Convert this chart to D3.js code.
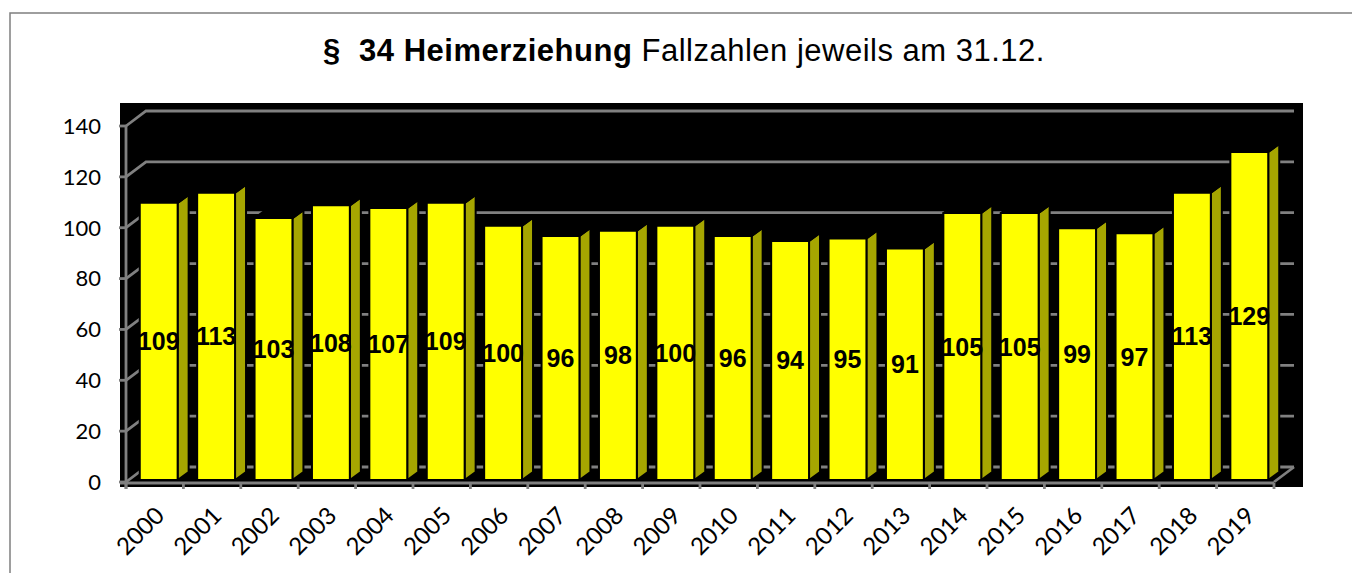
<!DOCTYPE html>
<html lang="de">
<head>
<meta charset="utf-8">
<title>§ 34 Heimerziehung</title>
<script src="https://d3js.org/d3.v7.min.js"></script>
<style>
  body { margin: 0; background: #fff; }
  svg { display: block; }
  .title { font-family: "Liberation Sans", Arial, sans-serif; font-size: 31px; letter-spacing: 0.5px; white-space: pre; }
  .tick { font-family: Lato, "Open Sans", sans-serif; font-size: 22px; fill: #000; }
  .xlab { font-family: Lato, "Open Sans", sans-serif; font-size: 24px; fill: #000; }
  .val { font-family: "Liberation Sans", Arial, sans-serif; font-size: 25px; font-weight: bold; fill: #000; }
</style>
</head>
<body>
<svg id="chart" width="1352" height="573"></svg>
<script>
// data
var years = ["2000","2001","2002","2003","2004","2005","2006","2007","2008","2009",
             "2010","2011","2012","2013","2014","2015","2016","2017","2018","2019"]
var cases = [109,113,103,108,107,109,100,96,98,100,96,94,95,91,105,105,99,97,113,129]
var yTicks = [0,20,40,60,80,100,120,140]

// colours
var front = "#ffff00", top = "#cccc00", side = "#a6a600"
var grid = "#808080"

// 3d offsets
var wall = {dx: 20, dy: -15}   // depth of the floor / back wall
var depth = {dx: 11, dy: -8}    // depth of a bar
var shift = {dx: 4, dy: -2}     // bar front face behind the front plane

var svg = d3.select("#chart")

// outer frame
svg.append("rect")
  .attr("x", 10).attr("y", 13)
  .attr("width", 1400).attr("height", 600)
  .attr("fill", "none").attr("stroke", "#7f7f7f").attr("stroke-width", 1.5)

// title
var title = svg.append("text").attr("class", "title")
  .attr("x", 684).attr("y", 61).attr("text-anchor", "middle")
title.append("tspan").attr("font-weight", "bold").text("§  34 Heimerziehung")
title.append("tspan").text(" Fallzahlen jeweils am 31.12.")

// scales (front plane)
var x = d3.scaleBand().domain(years).range([126, 1274]).padding(0)
var y = d3.scaleLinear().domain([0, 140]).range([482, 126])

// black plot background
svg.append("rect")
  .attr("x", 120).attr("y", 103)
  .attr("width", 1183).attr("height", 384)
  .attr("fill", "#000")

var x0 = x.range()[0], x1 = x.range()[1]

// back wall gridlines + side wall diagonals
var g = svg.append("g").attr("stroke", grid).attr("stroke-width", 2.8).attr("fill", "none")
g.selectAll("path.grid")
  .data(yTicks)
  .join("path")
  .attr("class", "grid")
  .attr("d", d => "M" + x0 + "," + y(d) +
                  "L" + (x0 + wall.dx) + "," + (y(d) + wall.dy) +
                  "L" + (x1 + wall.dx) + "," + (y(d) + wall.dy))

// floor right edge
g.append("path")
  .attr("d", "M" + x1 + "," + y(0) + "L" + (x1 + wall.dx) + "," + (y(0) + wall.dy))

// bars
var bw = x.bandwidth() * 0.66
var bars = svg.append("g").attr("stroke", "#000").attr("stroke-width", 2).attr("stroke-linejoin", "round")
  .selectAll("g")
  .data(years.map((yr, i) => ({year: yr, v: cases[i]})))
  .join("g")

function bx(d) { return x(d.year) + (x.bandwidth() - bw) / 2 + shift.dx }
function by(v) { return y(v) + shift.dy }

bars.append("path") // side
  .attr("fill", side)
  .attr("d", d => {
    var xr = bx(d) + bw
    return "M" + xr + "," + by(d.v) +
           "L" + (xr + depth.dx) + "," + (by(d.v) + depth.dy) +
           "L" + (xr + depth.dx) + "," + (by(0) + depth.dy) +
           "L" + xr + "," + by(0) + "Z"
  })
bars.append("path") // top
  .attr("fill", top)
  .attr("d", d => {
    var xl = bx(d), xr = bx(d) + bw, yt = by(d.v)
    return "M" + xl + "," + yt +
           "L" + (xl + depth.dx) + "," + (yt + depth.dy) +
           "L" + (xr + depth.dx) + "," + (yt + depth.dy) +
           "L" + xr + "," + yt + "Z"
  })
bars.append("rect") // front
  .attr("fill", front)
  .attr("x", d => bx(d))
  .attr("y", d => by(d.v))
  .attr("width", bw)
  .attr("height", d => by(0) - by(d.v))

// front axes
var ax = svg.append("g").attr("stroke", grid).attr("stroke-width", 2.8).attr("fill", "none")
ax.append("line").attr("x1", x0).attr("x2", x0).attr("y1", y(140)).attr("y2", y(0) + 7)
ax.append("line").attr("x1", 120).attr("x2", x1).attr("y1", y(0) + 1).attr("y2", y(0) + 1)
ax.selectAll("line.yt").data(yTicks).join("line").attr("class", "yt")
  .attr("x1", x0 - 7).attr("x2", x0).attr("y1", d => y(d)).attr("y2", d => y(d))
ax.selectAll("line.xt").data(years.concat(["end"])).join("line").attr("class", "xt")
  .attr("x1", (d, i) => x0 + i * x.step()).attr("x2", (d, i) => x0 + i * x.step())
  .attr("y1", y(0) + 1).attr("y2", y(0) + 7)

// y tick labels
svg.append("g").selectAll("text")
  .data(yTicks)
  .join("text")
  .attr("class", "tick")
  .attr("x", 101).attr("y", d => y(d))
  .attr("dy", "0.36em")
  .attr("text-anchor", "end")
  .text(d => d)

// x tick labels
svg.append("g").selectAll("text")
  .data(years)
  .join("text")
  .attr("class", "xlab")
  .attr("text-anchor", "end")
  .attr("transform", d => "translate(" + (x(d) + x.bandwidth() / 2 + 5) + "," + (y(0) + 29) + ") rotate(-45)")
  .attr("dy", "0.36em")
  .text(d => d)

// value labels
svg.append("g").selectAll("text")
  .data(years.map((yr, i) => ({year: yr, v: cases[i]})))
  .join("text")
  .attr("class", "val")
  .attr("text-anchor", "middle")
  .attr("x", d => bx(d) + bw / 2)
  .attr("y", d => (by(d.v) + by(0)) / 2)
  .attr("dy", "0.36em")
  .text(d => d.v)
</script>
</body>
</html>
